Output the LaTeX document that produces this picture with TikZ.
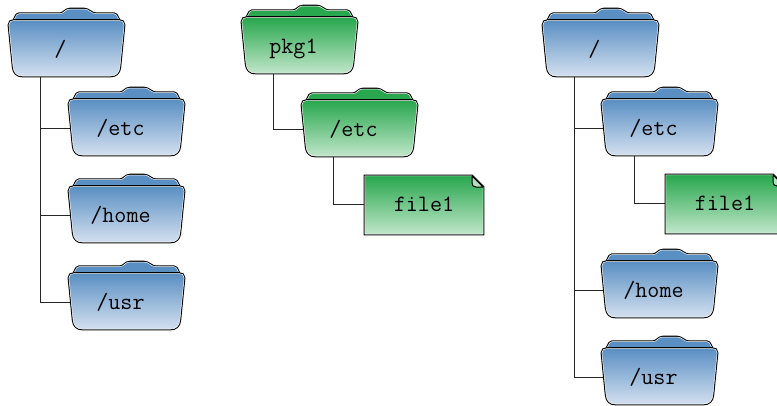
\documentclass[tikz,border=0pt]{standalone}
\usepackage{fontspec}
\usetikzlibrary{backgrounds}
\definecolor{bluetop}{HTML}{5A8FC3}
\definecolor{bluebot}{HTML}{D3E0EF}
\definecolor{greentop}{HTML}{28A74E}
\definecolor{greenbot}{HTML}{C0E6C9}
\newcommand{\frontpath}{(0.9,17) .. controls (0.9,13.9) and (2.9,12.5) .. (6,12.5) -- (111,12.5) .. controls (114.1,12.5) and (116.1,13.9) .. (116.1,17) -- (111.9,59) .. controls (111.3,65) and (108,68.1) .. (102,68.1) -- (15,68.1) .. controls (9,68.1) and (5.7,65) .. (5.1,59) -- cycle}
\newcommand{\backpath}{(6,12) -- (8.6,6.9) .. controls (9,6.1) and (9.6,5.7) .. (11,5.7) -- (52,5.7) .. controls (56,5.7) and (57,1) .. (62,1) -- (76,1) .. controls (81,1) and (83,5.7) .. (88,5.7) -- (106,5.7) .. controls (107.4,5.7) and (108,6.1) .. (108.4,6.9) -- (111,12) -- cycle}
\newcommand{\filepath}{(0.9,.9) -- (108,.9) -- (119.1,12) -- (119.1,59.1) -- (0.9,59.1) -- cycle}
% #1 name, #2 left x, #3 tab top y, #4 text, #5 colour prefix
\newcommand{\myfolder}[5]{%
  \begin{scope}[shift={(#2,#3)}]
    \path[draw=black,line width=2.6pt,fill=#5top,line join=round] \backpath;
    \path[draw=white,line width=.5pt,fill=#5top,line join=round] \backpath;
    \path[draw=black,line width=2.6pt] \frontpath;
    \path[draw=white,line width=.5pt,top color=#5top,bottom color=#5bot] \frontpath;
    \node[labelbox,text width=117pt,anchor=base west] (#1) at (0,48.5) {#4\hphantom{x}};
  \end{scope}}
\newcommand{\myfile}[4]{%
  \begin{scope}[shift={(#2,#3)}]
    \path[draw=black,line width=2.6pt,line join=miter] \filepath;
    \path[draw=white,line width=.5pt,top color=greentop,bottom color=greenbot] \filepath;
    \path[draw=black,line width=1pt,fill=greentop!35!white,line join=round] (108,.9) -- (108,8) .. controls (108,10.5) and (109.5,12) .. (112,12) -- (119.1,12) -- cycle;
    \node[labelbox,text width=120pt,anchor=base west] (#1) at (0,36.5) {#4};
  \end{scope}}
\tikzset{
  labelbox/.style={inner sep=0pt,outer sep=0pt,align=center,font=\fontsize{23.4}{25}\ttfamily,text=black},
  conn/.style={draw=black!85,line width=1pt},
}
\begin{document}
\begin{tikzpicture}[x=1pt,y=-1pt]
\clip (0,0) rectangle (777,405);
% left tree
\myfolder{a}{8}{8}{/}{blue}
\myfolder{aetc}{68}{87}{/etc}{blue}
\myfolder{ahome}{68}{174}{/home}{blue}
\myfolder{ausr}{68}{261}{/usr}{blue}
% middle tree
\myfolder{b}{241}{5}{pkg1}{green}
\myfolder{betc}{301}{88}{/etc}{green}
\myfile{bfile}{364}{175}{file1}
% right tree
\myfolder{c}{542}{8}{/}{blue}
\myfolder{cetc}{601}{87}{/etc}{blue}
\myfile{cfile}{665}{174}{file1}
\myfolder{chome}{601}{249}{/home}{blue}
\myfolder{cusr}{601}{336}{/usr}{blue}
\begin{pgfonlayer}{background}
\fill[white] (0,0) rectangle (777,405);
\coordinate (a0) at (40,70);
\coordinate (b0) at (273,70);
\coordinate (be) at (333,150);
\coordinate (c0) at (574,70);
\coordinate (ce) at (634,150);
\draw[conn] (a0) |- (aetc.center);
\draw[conn] (a0) |- (ahome.center);
\draw[conn] (a0) |- (ausr.center);
\draw[conn] (b0) |- (betc.center);
\draw[conn] (be) |- (bfile.center);
\draw[conn] (c0) |- (cetc.center);
\draw[conn] (c0) |- (chome.center);
\draw[conn] (c0) |- (cusr.center);
\draw[conn] (ce) |- (cfile.center);
\end{pgfonlayer}
\end{tikzpicture}
\end{document}
